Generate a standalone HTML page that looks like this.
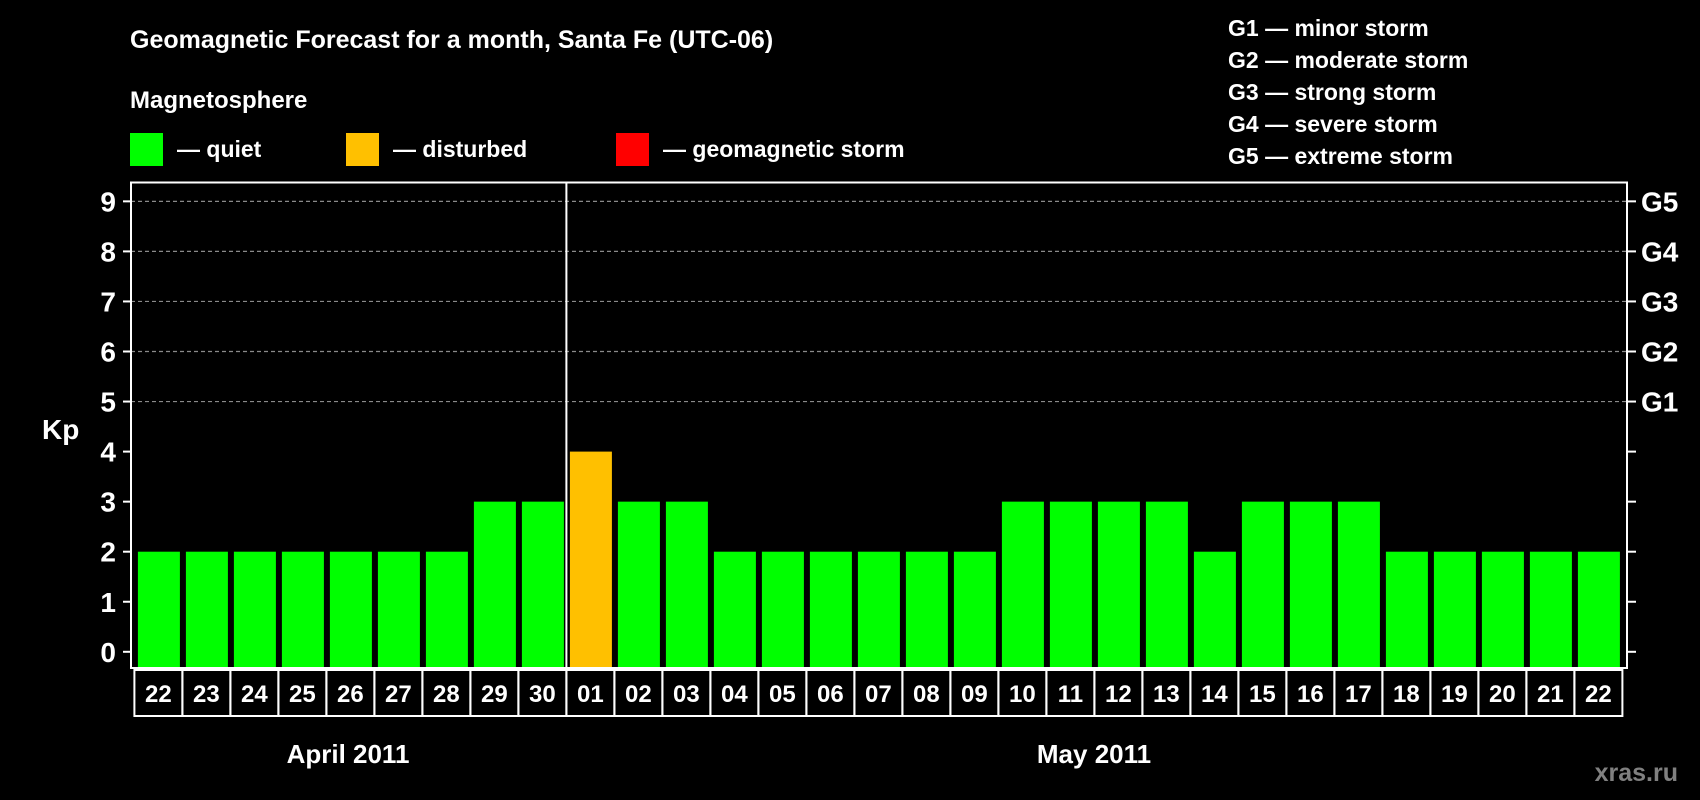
<!DOCTYPE html>
<html><head><meta charset="utf-8"><style>
html,body{margin:0;padding:0;background:#000;}
svg{display:block;}
text{font-family:"Liberation Sans",Arial,sans-serif;font-weight:bold;fill:#fff;}
</style></head><body>
<svg id="chart" width="1700" height="800" viewBox="0 0 1700 800" xmlns="http://www.w3.org/2000/svg">
<text x="130" y="48" font-size="25">Geomagnetic Forecast for a month, Santa Fe (UTC-06)</text>
<text x="130" y="108" font-size="24">Magnetosphere</text>
<rect x="130" y="133" width="33" height="33" fill="#00ff00"/>
<text x="177" y="157" font-size="23">— quiet</text>
<rect x="346" y="133" width="33" height="33" fill="#ffc000"/>
<text x="393" y="157" font-size="23">— disturbed</text>
<rect x="616" y="133" width="33" height="33" fill="#ff0000"/>
<text x="663" y="157" font-size="23">— geomagnetic storm</text>
<g font-size="23">
<text x="1228" y="36">G1 — minor storm</text>
<text x="1228" y="68">G2 — moderate storm</text>
<text x="1228" y="100">G3 — strong storm</text>
<text x="1228" y="132">G4 — severe storm</text>
<text x="1228" y="164">G5 — extreme storm</text>
</g>
<text x="42" y="439" font-size="28">Kp</text>
<g id="grid"></g><g id="bars"></g><g id="axes"></g>
<text x="348" y="763" font-size="26" text-anchor="middle">April 2011</text>
<text x="1094" y="763" font-size="26" text-anchor="middle">May 2011</text>
<text x="1678" y="781" font-size="25" text-anchor="end" style="fill:#808080">xras.ru</text>
</svg>
<script>
const days = ["22","23","24","25","26","27","28","29","30","01","02","03","04","05","06","07","08","09","10","11","12","13","14","15","16","17","18","19","20","21","22"];
const kp = [2,2,2,2,2,2,2,3,3,4,3,3,2,2,2,2,2,2,3,3,3,3,2,3,3,3,2,2,2,2,2];
const yTicks = ["0","1","2","3","4","5","6","7","8","9"];
const gLabels = ["G1","G2","G3","G4","G5"];
const NS="http://www.w3.org/2000/svg";
const L=131,R=1627,T=182.5,B=668,C0=134.4,P=48;
const y=v=>651.8-v*50.05;
const x=i=>C0+i*P;
function mk(t,a,parent){const e=document.createElementNS(NS,t);for(const k in a)e.setAttribute(k,a[k]);parent.appendChild(e);return e;}
const grid=document.getElementById('grid'),bars=document.getElementById('bars'),axes=document.getElementById('axes');
yTicks.forEach((t,i)=>{
  const v=+t,yy=y(v);
  if(v>=5){const g=mk('line',{x1:L,x2:R,y1:yy,y2:yy,stroke:'#8a8a8a','stroke-width':1.2,'stroke-dasharray':'4 3'},grid);
  
  }
  const tl=mk('line',{x1:L-8,x2:L,y1:yy,y2:yy,stroke:'#fff','stroke-width':2},axes);
  
  
  const tr=mk('line',{x1:R,x2:R+9,y1:yy,y2:yy,stroke:'#fff','stroke-width':2},axes);
  
  
  const lb=mk('text',{x:116,y:yy+10,'font-size':28,'text-anchor':'end'},axes);lb.textContent=t;
  
  
});
gLabels.forEach((g,i)=>{
  const lb=mk('text',{x:1641,y:y(5+i)+10,'font-size':28},axes);lb.textContent=g;
  
  
});
kp.forEach((v,i)=>{
  const col=v>=5?'#ff0000':(v>=4?'#ffc000':'#00ff00');
  const b=mk('rect',{x:x(i)+3.5,y:y(v),width:42,height:667-y(v),fill:col},bars);
  
  
  const c=mk('rect',{x:x(i),y:670,width:P,height:46,fill:'none',stroke:'#fff','stroke-width':2},axes);
  
  
  const t=mk('text',{x:x(i)+P/2,y:702,'font-size':24,'text-anchor':'middle'},axes);t.textContent=days[i];
  
  
});
const fr=mk('rect',{x:L,y:T,width:R-L,height:B-T,fill:'none',stroke:'#fff','stroke-width':2},axes);


const mi=days.indexOf("01");
const sep=mk('line',{x1:x(mi),x2:x(mi),y1:T,y2:B,stroke:'#fff','stroke-width':2},axes);


</script>
</body></html>
